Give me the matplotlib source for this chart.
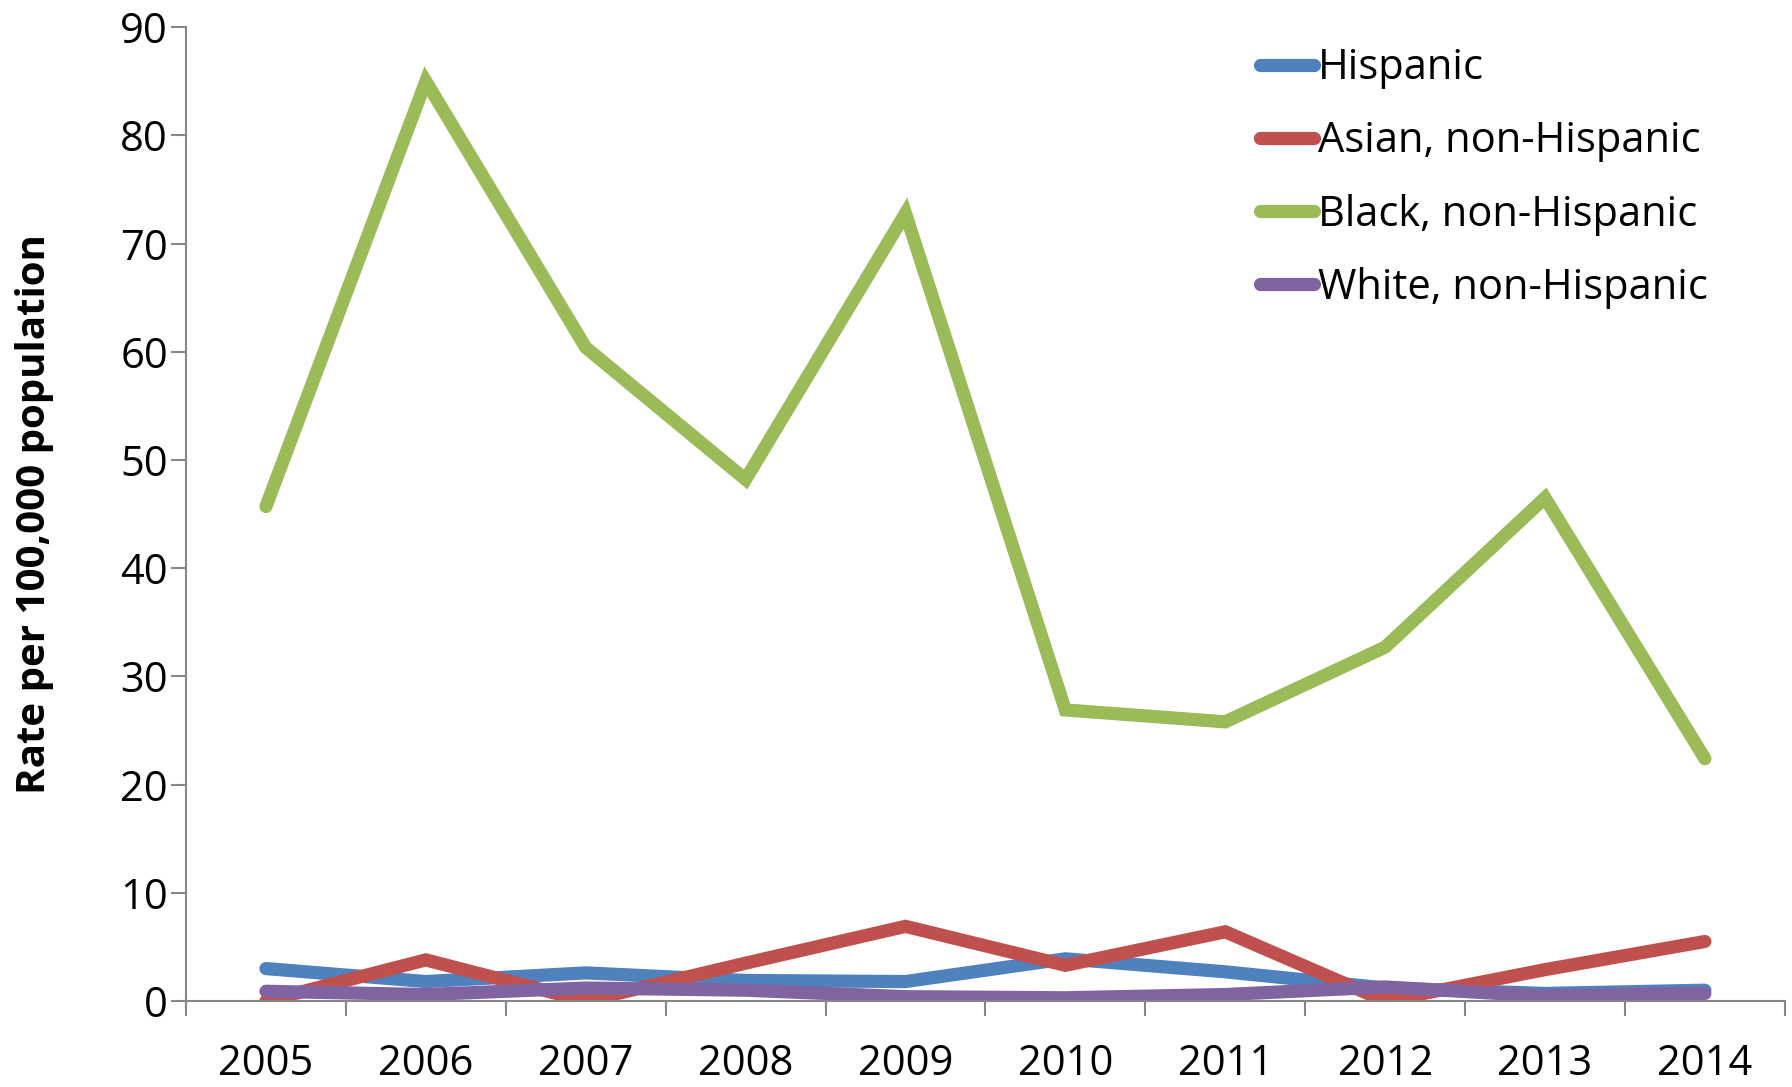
import numpy as np
import matplotlib
matplotlib.use("Agg")
from matplotlib import pyplot as plt

years = ["2005", "2006", "2007", "2008", "2009", "2010", "2011", "2012", "2013", "2014"]
hispanic = [3.0, 1.8, 2.6, 1.9, 1.8, 3.9, 2.7, 1.2, 0.7, 1.0]
asian = [0.0, 3.8, 0.0, 3.5, 6.9, 3.3, 6.4, 0.0, 2.9, 5.5]
black = [45.7, 85.0, 60.4, 48.2, 72.8, 26.9, 25.8, 32.7, 46.5, 22.4]
white = [0.9, 0.6, 1.2, 1.0, 0.4, 0.3, 0.6, 1.3, 0.45, 0.7]

series = [("Hispanic", hispanic, "#4F81BD"),
          ("Asian, non-Hispanic", asian, "#C0504D"),
          ("Black, non-Hispanic", black, "#9BBB59"),
          ("White, non-Hispanic", white, "#8064A2")]

plt.rcParams['font.family'] = ['Open Sans', 'DejaVu Sans']

fig = plt.figure(figsize=(17.92, 10.87), dpi=100)
ax = fig.add_axes([0.1038, 0.0791, 0.8922, 0.8959])

x = np.arange(len(years))
for name, vals, col in series:
    ax.plot(x, vals, color=col, lw=9.5, label=name,
            solid_capstyle='round', solid_joinstyle='miter')

ax.set_xlim(-0.5, len(years) - 0.5)
ax.set_ylim(0, 90)
ax.set_yticks(range(0, 91, 10))
ax.set_xticks(x)
ax.set_xticklabels(years)
ax.set_xticks(np.arange(-0.5, len(years)), minor=True)

for s in ['top', 'right']:
    ax.spines[s].set_visible(False)
for s in ['left', 'bottom']:
    ax.spines[s].set_color('#868686')
    ax.spines[s].set_linewidth(1.5)

ax.tick_params(axis='y', length=11, width=1.5, color='#868686', labelsize=30, pad=2)
ax.tick_params(axis='x', which='major', length=0, labelsize=30, pad=30)
ax.tick_params(axis='x', which='minor', length=11, width=1.5, color='#868686')

ax.set_ylabel("Rate per 100,000 population", fontsize=29, fontweight='bold', labelpad=48)

leg = ax.legend(loc='upper left', bbox_to_anchor=(0.648, 1.018), frameon=False,
                fontsize=30, handlelength=1.3, handletextpad=0.1, labelspacing=0.75)

fig.savefig("out.png", dpi=100)
